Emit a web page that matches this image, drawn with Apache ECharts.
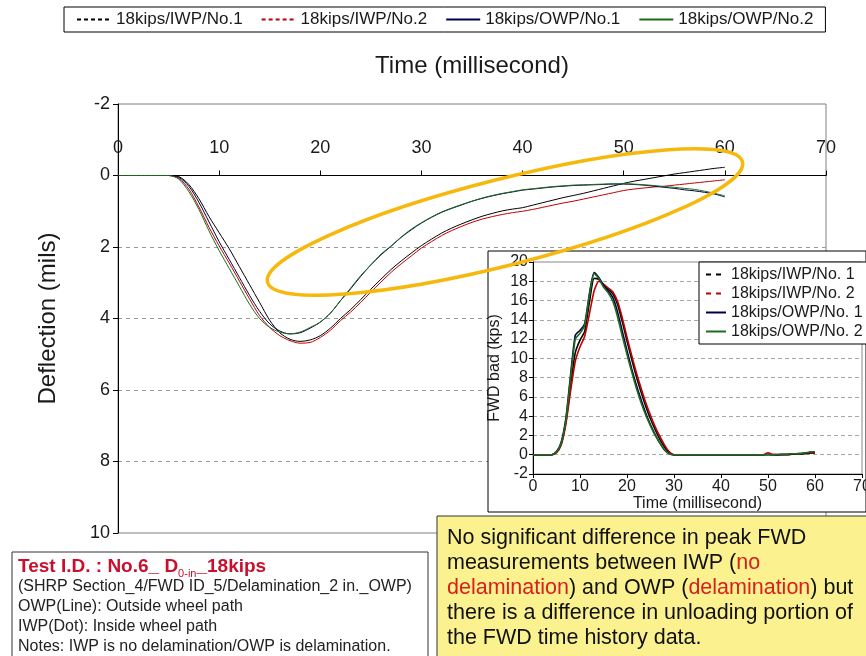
<!DOCTYPE html>
<html>
<head>
<meta charset="utf-8">
<script src="https://cdn.jsdelivr.net/npm/echarts@6.0.0/dist/echarts.min.js"></script>
<style>
  html, body { margin: 0; padding: 0; background: #fff; }
  #chart { width: 866px; height: 656px; }
</style>
</head>
<body>
<div id="chart"></div>
<script>
// ---- Deflection time history (mils), sampled every 1 ms ----
const timeMs = [0,1,2,3,4,5,6,7,8,9,10,11,12,13,14,15,16,17,18,19,20,21,22,23,24,25,26,27,28,29,30,
  31,32,33,34,35,36,37,38,39,40,41,42,43,44,45,46,47,48,49,50,51,52,53,54,55,56,57,58,59,60];

const deflIWP1 = [0,0,0,0,0,0,0.03,0.25,0.65,1.15,1.6,2.05,2.55,3.05,3.55,4.05,4.4,4.58,4.64,4.6,4.48,
  4.27,4.0,3.75,3.47,3.18,2.9,2.63,2.39,2.17,1.96,1.78,1.61,1.47,1.35,1.24,1.14,1.06,0.99,0.94,0.9,
  0.83,0.76,0.69,0.62,0.56,0.5,0.43,0.36,0.29,0.22,0.16,0.11,0.06,0.01,-0.04,-0.08,-0.12,-0.16,-0.2,-0.23];
const deflIWP2 = [0,0,0,0,0,0,0.08,0.38,0.88,1.45,1.97,2.45,2.95,3.45,3.92,4.25,4.48,4.62,4.69,4.67,4.53,
  4.33,4.06,3.82,3.55,3.26,2.98,2.71,2.47,2.25,2.03,1.85,1.68,1.54,1.42,1.31,1.22,1.15,1.09,1.04,1.0,
  0.95,0.89,0.83,0.77,0.72,0.66,0.6,0.54,0.48,0.42,0.38,0.35,0.32,0.3,0.27,0.24,0.21,0.18,0.15,0.12];
const deflOWP1 = [0,0,0,0,0,0,0.05,0.3,0.75,1.3,1.85,2.35,2.85,3.35,3.8,4.15,4.35,4.43,4.4,4.27,4.1,
  3.85,3.5,3.17,2.82,2.5,2.22,1.98,1.73,1.52,1.33,1.17,1.03,0.92,0.82,0.72,0.64,0.57,0.51,0.46,0.41,
  0.38,0.35,0.32,0.3,0.28,0.27,0.26,0.25,0.24,0.24,0.25,0.27,0.3,0.33,0.36,0.4,0.43,0.47,0.52,0.6];
const deflOWP2 = [0,0,0,0,0,0,0.1,0.45,0.95,1.55,2.1,2.6,3.1,3.6,4.0,4.25,4.38,4.43,4.38,4.25,4.1,
  3.85,3.5,3.15,2.8,2.5,2.2,1.97,1.72,1.5,1.32,1.16,1.02,0.91,0.81,0.72,0.63,0.56,0.5,0.45,0.4,
  0.37,0.34,0.31,0.29,0.27,0.26,0.25,0.24,0.23,0.23,0.24,0.26,0.28,0.31,0.33,0.36,0.39,0.44,0.5,0.57];

// ---- FWD load time history (kips) for the inset ----
const loadIWP1 = [0,0,0,0,0,0.3,1.1,3.4,7.2,10.6,11.9,12.8,15.8,18.3,18.2,17.6,17.2,16.7,15.6,13.8,11.8,
  9.9,8.1,6.5,5.0,3.7,2.6,1.6,0.8,0.2,0,0,0,0,0,0,0,0,0,0,0,0,0,0,0,0,0,0,0,0,
  0.05,0,0,0.05,0,0.05,0.1,0.1,0.15,0.2,0.2];
const loadIWP2 = [0,0,0,0,0,0.2,1.0,3.2,6.6,9.7,11.2,12.3,14.6,17.0,18.0,17.7,17.3,16.9,15.9,14.2,12.2,
  10.3,8.5,6.9,5.4,4.1,2.9,1.9,1.0,0.3,0,0,0,0,0,0,0,0,0,0,0,0,0,0,0,0,0,0,0,0,
  0.2,0.05,0,0,0,0.05,0.05,0.1,0.1,0.15,0.15];
const loadOWP1 = [0,0,0,0,0,0.3,1.3,3.8,8.3,12.4,12.9,13.6,16.7,18.9,18.4,17.6,17.0,16.3,14.8,12.8,10.8,
  8.9,7.2,5.7,4.3,3.1,2.1,1.2,0.5,0.1,0,0,0,0,0,0,0,0,0,0,0,0,0,0,0,0,0,0,0,0,
  0,0,0,0,0.05,0.05,0.1,0.1,0.15,0.2,0.25];
const loadOWP2 = [0,0,0,0,0,0.3,1.2,3.6,8.0,12.0,12.6,13.4,16.5,18.8,18.3,17.4,16.8,15.9,14.3,12.3,10.4,
  8.6,6.9,5.4,4.1,3.0,2.0,1.2,0.5,0.1,0,0,0,0,0,0,0,0,0,0,0,0,0,0,0,0,0,0,0,0,
  0,0,0.05,0.05,0.05,0.1,0.1,0.15,0.2,0.3,0.3];

// ---- names and labels ----
const mainNames = ['18kips/IWP/No.1', '18kips/IWP/No.2', '18kips/OWP/No.1', '18kips/OWP/No.2'];
const insetNames = ['18kips/IWP/No. 1', '18kips/IWP/No. 2', '18kips/OWP/No. 1', '18kips/OWP/No. 2'];
const seriesColors = ['#000000', '#C00000', '#000046', '#1E6B1E'];
const mainXName = 'Time (millisecond)';
const mainYName = 'Deflection (mils)';
const insetXName = 'Time (millisecond)';
const insetYName = 'FWD bad (kps)';

const FONT = '"Liberation Sans", Arial, Helvetica, sans-serif';
const TXT = '#1a1a1a';

const pairs = (xs, ys) => xs.map((x, i) => [x, ys[i]]);
const deflSets = [deflIWP1, deflIWP2, deflOWP1, deflOWP2];
const loadSets = [loadIWP1, loadIWP2, loadOWP1, loadOWP2];
const isDashed = [true, true, false, false];

const series = [];
deflSets.forEach((vals, i) => {
  series.push({
    name: mainNames[i], type: 'line', xAxisIndex: 0, yAxisIndex: 0,
    data: pairs(timeMs, vals), symbol: 'none', smooth: 0.3, z: 2,
    lineStyle: { color: seriesColors[i], width: 1 }, itemStyle: { color: seriesColors[i] }
  });
});
loadSets.forEach((vals, i) => {
  series.push({
    name: insetNames[i], type: 'line', xAxisIndex: 1, yAxisIndex: 1,
    data: pairs(timeMs, vals), symbol: 'none', smooth: 0.2, z: 4,
    lineStyle: { color: seriesColors[i], width: 1.6 }, itemStyle: { color: seriesColors[i] }
  });
});

// legend entries: plain line icons, IWP entries dashed
const legendData = (names, dash) => names.map((n, i) => ({
  name: n,
  itemStyle: { opacity: 0, borderWidth: 0 },
  lineStyle: isDashed[i] ? { type: dash } : { type: 'solid' }
}));

const chart = echarts.init(document.getElementById('chart'), null, { renderer: 'canvas' });

// distance (px) from the top of the deflection plot down to the 0 line
const zeroOffset = 429 * 2 / 12;

chart.setOption({
  animation: false,
  backgroundColor: '#ffffff',
  textStyle: { fontFamily: FONT },
  legend: [
    {
      top: 7, left: 64, itemWidth: 34, itemHeight: 10, itemGap: 18, padding: [4, 12],
      borderColor: '#000', borderWidth: 1, backgroundColor: '#fff',
      itemStyle: { opacity: 0 },
      textStyle: { fontSize: 17, color: TXT, fontFamily: FONT },
      data: legendData(mainNames, [4, 3])
    },
    {
      orient: 'vertical', top: 262, left: 699, itemWidth: 20, itemHeight: 8, itemGap: 0,
      padding: [3, 6], borderColor: '#000', borderWidth: 1, backgroundColor: '#fff', z: 6,
      itemStyle: { opacity: 0 },
      textStyle: { fontSize: 16, lineHeight: 19, color: TXT, fontFamily: FONT },
      data: legendData(insetNames, [5, 5])
    }
  ],
  grid: [
    { left: 118, top: 104, width: 708, height: 429, show: true, borderColor: '#808080',
      borderWidth: 1, outerBoundsMode: 'none', z: 0 },
    { left: 533, top: 262, width: 329, height: 212, show: true, borderColor: '#888',
      borderWidth: 1, outerBoundsMode: 'none', z: 3 }
  ],
  xAxis: [
    {
      gridIndex: 0, type: 'value', min: 0, max: 70, interval: 10, position: 'top',
      offset: -zeroOffset,
      axisLine: { onZero: false, lineStyle: { color: '#000', width: 1 } },
      axisTick: { show: true, length: 5, lineStyle: { color: '#000' } },
      axisLabel: { fontSize: 18, color: TXT, margin: 18, showMinLabel: true, showMaxLabel: true },
      splitLine: { show: false },
      name: mainXName, nameLocation: 'middle', nameGap: 97,
      nameTextStyle: { fontSize: 24, color: TXT }
    },
    {
      gridIndex: 1, type: 'value', min: 0, max: 70, interval: 10, position: 'bottom', z: 3,
      axisLine: { onZero: false, lineStyle: { color: '#000', width: 1 } },
      axisTick: { show: true, length: 4, lineStyle: { color: '#000' } },
      axisLabel: { fontSize: 16, color: TXT, margin: 5, showMinLabel: true, showMaxLabel: true },
      splitLine: { show: false },
      name: insetXName, nameLocation: 'middle', nameGap: 20,
      nameTextStyle: { fontSize: 16, color: TXT }
    }
  ],
  yAxis: [
    {
      gridIndex: 0, type: 'value', min: -2, max: 10, interval: 2, inverse: true,
      axisLine: { show: true, onZero: false, lineStyle: { color: '#000', width: 1 } },
      axisTick: { show: true, length: 5, lineStyle: { color: '#000' } },
      axisLabel: { fontSize: 18, color: TXT, margin: 8 },
      splitLine: { show: true, showMinLine: false, showMaxLine: false,
        lineStyle: { color: '#9a9a9a', type: [4, 4], width: 1 } },
      name: mainYName, nameLocation: 'middle', nameGap: 58,
      nameTextStyle: { fontSize: 24, color: TXT }
    },
    {
      gridIndex: 1, type: 'value', min: -2, max: 20, interval: 2, z: 3,
      axisLine: { show: true, onZero: false, lineStyle: { color: '#000', width: 1 } },
      axisTick: { show: true, length: 4, lineStyle: { color: '#000' } },
      axisLabel: { fontSize: 16, color: TXT, margin: 5 },
      splitLine: { show: true, showMinLine: false, showMaxLine: false,
        lineStyle: { color: '#a8a8a8', type: [4, 3], width: 1 } },
      name: insetYName, nameLocation: 'middle', nameGap: 30,
      nameTextStyle: { fontSize: 16, color: TXT }
    }
  ],
  series: series,
  graphic: [
    // inset panel
    { type: 'rect', z: 1, shape: { x: 488, y: 251, width: 378, height: 261 },
      style: { fill: '#fff', stroke: '#000', lineWidth: 1 } },
    // highlight around the unloading portion
    { type: 'ellipse', z: 10, x: 505, y: 222, rotation: 0.248,
      shape: { cx: 0, cy: 0, rx: 245, ry: 43 },
      style: { fill: 'none', stroke: '#F6B80C', lineWidth: 3.5 } },
    // test description box
    { type: 'rect', z: 20, shape: { x: 12, y: 552, width: 416, height: 120 },
      style: { fill: '#fff', stroke: '#333', lineWidth: 1 } },
    { type: 'text', z: 21, x: 18, y: 555,
      style: {
        text: '{t|Test I.D. : No.6_ D}{s|0-in}{t|_18kips}',
        rich: {
          t: { fontSize: 19, fontWeight: 'bold', fontFamily: FONT, fill: '#C8102E', lineHeight: 24 },
          s: { fontSize: 11, fontFamily: FONT, fill: '#C8102E', lineHeight: 12, verticalAlign: 'bottom' }
        }
      } },
    { type: 'text', z: 21, x: 18, y: 577,
      style: {
        text: '(SHRP Section_4/FWD ID_5/Delamination_2 in._OWP)\nOWP(Line): Outside wheel path\nIWP(Dot): Inside wheel path\nNotes: IWP is no delamination/OWP is delamination.',
        fontSize: 16, fontFamily: FONT, fill: '#222', lineHeight: 20
      } },
    // summary note
    { type: 'rect', z: 20, shape: { x: 437, y: 516, width: 440, height: 150 },
      style: { fill: '#FBF28F', stroke: '#333', lineWidth: 1 } },
    { type: 'text', z: 21, x: 447, y: 526,
      style: {
        text: '{b|No significant difference in peak FWD}\n{b|measurements between IWP (}{r|no}\n{r|delamination}{b|) and OWP (}{r|delamination}{b|) but}\n{b|there is a difference in unloading portion of}\n{b|the FWD time history data.}',
        rich: {
          b: { fontSize: 21.5, fontFamily: FONT, fill: '#111', lineHeight: 25 },
          r: { fontSize: 21.5, fontFamily: FONT, fill: '#D81E1E', lineHeight: 25 }
        }
      } }
  ]
});
</script>
</body>
</html>
